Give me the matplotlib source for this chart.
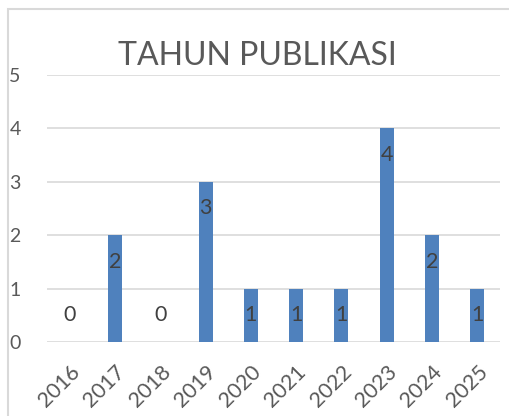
import matplotlib.pyplot as plt
from matplotlib.patches import Rectangle

# данные
years = ['2016', '2017', '2018', '2019', '2020', '2021', '2022', '2023', '2024', '2025']
counts = [0, 2, 0, 3, 1, 1, 1, 4, 2, 1]

plt.rcParams['font.family'] = ['Lato', 'DejaVu Sans']

fig = plt.figure(figsize=(5.09, 4.16), dpi=100)
ax = fig.add_axes([47/509, 1 - 342/416, 453/509, 267/416])

# рамка диаграммы
fig.patches.append(Rectangle((8/509, -0.1), 1.1, 1 - 9/416 + 0.1, transform=fig.transFigure,
                             fill=False, edgecolor='#D9D9D9', linewidth=1.5))

x = range(len(years))
ax.bar(x, counts, width=0.31, color='#4F81BD', zorder=3)

# подписи значений
for i, v in enumerate(counts):
    ax.text(i, max(v - 0.5, 0.5), str(v), ha='center', va='center', fontsize=15.5,
            color='#404040', zorder=4)

ax.set_xlim(-0.5, len(years) - 0.5)
ax.set_ylim(0, 5)
ax.set_yticks(range(6))
ax.yaxis.grid(True, color='#D9D9D9', linewidth=1.2, zorder=0)
for s in ax.spines.values():
    s.set_visible(False)
ax.tick_params(axis='both', length=0, labelsize=14, labelcolor='#595959')
ax.tick_params(axis='y', pad=19)
ax.set_xticks(list(x))
ax.set_xticklabels(years, rotation=45, ha='right', rotation_mode='anchor', fontsize=15.5)
ax.tick_params(axis='x', pad=14)

fig.text(0.5 + 3/509, 1 - 56/416, 'TAHUN PUBLIKASI', ha='center', va='center', fontsize=23, color='#595959')

fig.savefig('out.png', dpi=100)
